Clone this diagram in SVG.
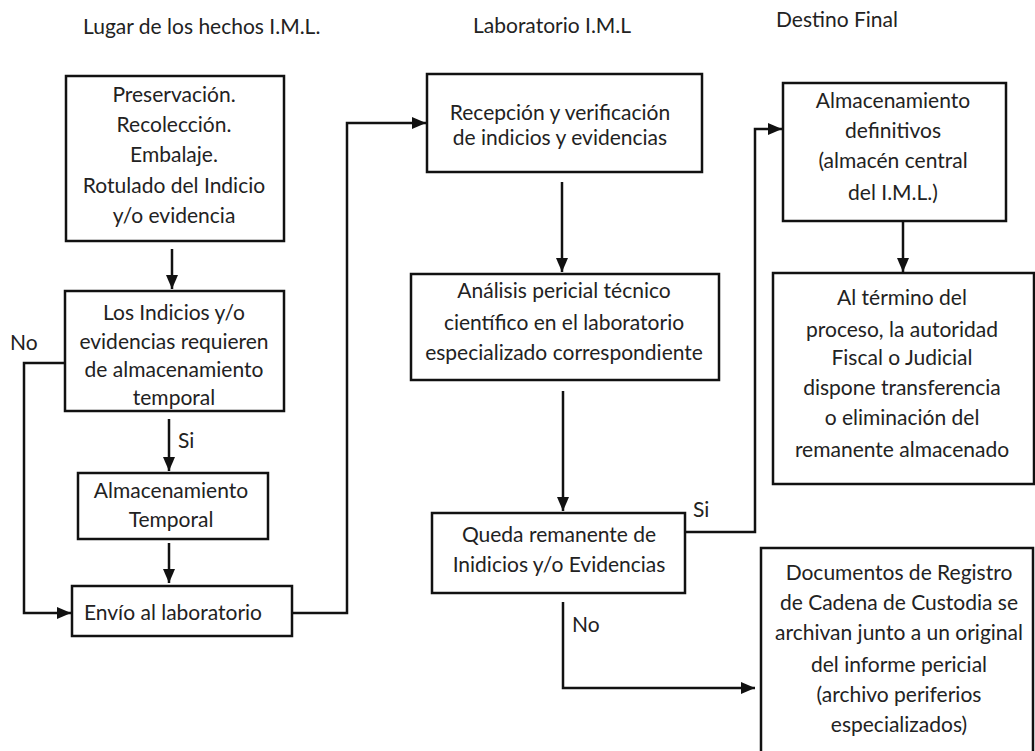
<svg xmlns="http://www.w3.org/2000/svg" width="1035" height="751" viewBox="0 0 1035 751">
<defs>
<style>
.box{fill:#fff;stroke:#111;stroke-width:2.5}
.t{font-family:Lato,"Liberation Sans",sans-serif;font-size:21px;fill:#222;text-anchor:middle}
.l{font-family:Lato,"Liberation Sans",sans-serif;font-size:21px;fill:#222}
.c{fill:none;stroke:#111;stroke-width:2.5}
</style>
<marker id="ah" markerUnits="userSpaceOnUse" markerWidth="14" markerHeight="12" refX="14" refY="6" orient="auto">
<path d="M0,0 L14,6 L0,12 z" fill="#111"/>
</marker>
</defs>
<rect width="1035" height="751" fill="#fff"/>
<g id="headers">
<text class="l" x="83" y="34">Lugar de los hechos I.M.L.</text>
<text class="l" x="473" y="33">Laboratorio I.M.L</text>
<text class="l" x="776" y="27">Destino Final</text>
</g>
<g id="connectors">
<path class="c" d="M172,249 V289" marker-end="url(#ah)"/>
<path class="c" d="M65,363 H24 V613 H71" marker-end="url(#ah)"/>
<path class="c" d="M169,419 V471" marker-end="url(#ah)"/>
<path class="c" d="M169,543 V583" marker-end="url(#ah)"/>
<path class="c" d="M292,613 H347 V123 H426" marker-end="url(#ah)"/>
<path class="c" d="M562,182 V272" marker-end="url(#ah)"/>
<path class="c" d="M563,391 V511" marker-end="url(#ah)"/>
<path class="c" d="M685,532 H755 V129 H782" marker-end="url(#ah)"/>
<path class="c" d="M903,221 V272" marker-end="url(#ah)"/>
<path class="c" d="M563,602 V688 H755" marker-end="url(#ah)"/>
</g>
<g id="labels">
<text class="l" x="10" y="350">No</text>
<text class="l" x="178" y="448">Si</text>
<text class="l" x="693" y="517">Si</text>
<text class="l" x="572" y="632">No</text>
</g>
<g id="n1">
<rect class="box" x="66" y="76" width="218" height="165"/>
<text class="t" x="174" y="102">Preservación.</text>
<text class="t" x="174" y="132">Recolección.</text>
<text class="t" x="174" y="162">Embalaje.</text>
<text class="t" x="174" y="193">Rotulado del Indicio</text>
<text class="t" x="174" y="223">y/o evidencia</text>
</g>
<g id="n2">
<rect class="box" x="65" y="291" width="219" height="120"/>
<text class="t" x="174" y="320">Los Indicios y/o</text>
<text class="t" x="174" y="349">evidencias requieren</text>
<text class="t" x="174" y="377">de almacenamiento</text>
<text class="t" x="174" y="405">temporal</text>
</g>
<g id="n3">
<rect class="box" x="78" y="473" width="190" height="66"/>
<text class="t" x="171" y="498">Almacenamiento</text>
<text class="t" x="171" y="527">Temporal</text>
</g>
<g id="n4">
<rect class="box" x="72" y="586" width="220" height="50"/>
<text class="t" x="173" y="620">Envío al laboratorio</text>
</g>
<g id="n5">
<rect class="box" x="427" y="74" width="275" height="98"/>
<text class="t" x="560" y="120">Recepción y verificación</text>
<text class="t" x="560" y="145">de indicios y evidencias</text>
</g>
<g id="n6">
<rect class="box" x="411" y="274" width="308" height="106"/>
<text class="t" x="564" y="298">Análisis pericial técnico</text>
<text class="t" x="564" y="330">científico en el laboratorio</text>
<text class="t" x="564" y="360">especializado correspondiente</text>
</g>
<g id="n7">
<rect class="box" x="432" y="513" width="253" height="80"/>
<text class="t" x="559" y="542">Queda remanente de</text>
<text class="t" x="559" y="572">Inidicios y/o Evidencias</text>
</g>
<g id="n8">
<rect class="box" x="783" y="83" width="223" height="138"/>
<text class="t" x="893" y="108">Almacenamiento</text>
<text class="t" x="893" y="138">definitivos</text>
<text class="t" x="893" y="168">(almacén central</text>
<text class="t" x="893" y="200">del I.M.L.)</text>
</g>
<g id="n9">
<rect class="box" x="773" y="273" width="261" height="211"/>
<text class="t" x="902" y="305">Al término del</text>
<text class="t" x="902" y="337">proceso, la autoridad</text>
<text class="t" x="902" y="365">Fiscal o Judicial</text>
<text class="t" x="902" y="395">dispone transferencia</text>
<text class="t" x="902" y="425">o eliminación del</text>
<text class="t" x="902" y="457">remanente almacenado</text>
</g>
<g id="n10">
<rect class="box" x="761" y="548" width="272" height="215"/>
<text class="t" x="899" y="580">Documentos de Registro</text>
<text class="t" x="899" y="610">de Cadena de Custodia se</text>
<text class="t" x="899" y="640">archivan junto a un original</text>
<text class="t" x="899" y="672">del informe pericial</text>
<text class="t" x="899" y="702">(archivo periferios</text>
<text class="t" x="899" y="732">especializados)</text>
</g>
</svg>
